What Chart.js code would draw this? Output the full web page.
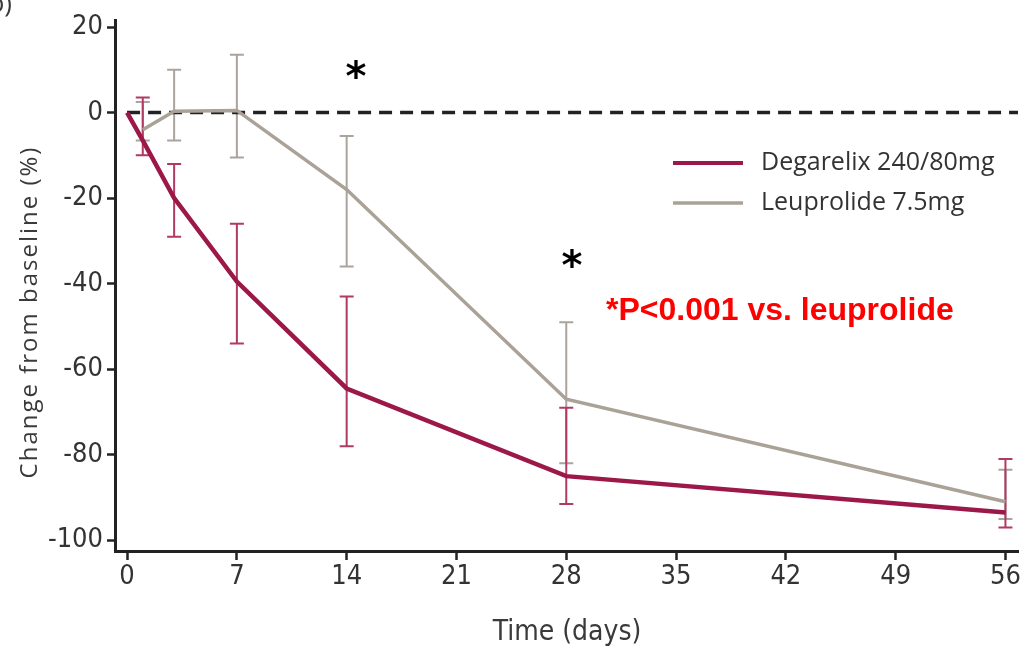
<!DOCTYPE html>
<html>
<head>
<meta charset="utf-8">
<script src="https://cdn.jsdelivr.net/npm/chart.js@4.4.1/dist/chart.umd.min.js"></script>
<style>
  html, body { margin: 0; padding: 0; background: #fff; }
  #wrap { width: 1027px; height: 655px; }
</style>
</head>
<body>
<div id="wrap"><canvas id="chart" width="1027" height="655"></canvas></div>
<script>
// values (change from baseline, %)
const degDays = [0, 1, 3, 7, 14, 28, 56];
const degarelix = [0, -6.5, -20, -39.5, -64.5, -85, -93.5];
const degLow = [null, -10, -29, -54, -78, -91.5, -97];
const degHigh = [null, 3.5, -12, -26, -43, -69, -81];

const leuDays = [1, 3, 7, 14, 28, 56];
const leuprolide = [-4, 0.3, 0.5, -18, -67, -91];
const leuLow = [-6.5, -6.5, -10.5, -36, -82, -95];
const leuHigh = [2.5, 10, 13.5, -5.5, -49, -83.5];

const xTicks = [0, 7, 14, 21, 28, 35, 42, 49, 56];
const yTicks = [-100, -80, -60, -40, -20, 0, 20];

const RED = "#9c1848";
const RED_ERR = "#b03a62";
const GRAY = "#aaa297";
const GRAY_ERR = "#aaa49d";
const AXIS = "#222";
const narrow = "'Liberation Sans Narrow', 'DejaVu Sans Condensed', 'Open Sans', sans-serif";

const toPts = (xs, ys) => xs.map((x, i) => ({ x, y: ys[i] }));

const errorBars = {
  id: "errorBars",
  beforeDatasetsDraw(chart) {
    const { ctx, scales: { x, y } } = chart;
    const draw = (days, lo, hi, color) => {
      ctx.save();
      ctx.strokeStyle = color;
      ctx.lineWidth = 2;
      days.forEach((d, i) => {
        if (lo[i] == null) return;
        const px = x.getPixelForValue(d);
        const y1 = y.getPixelForValue(lo[i]);
        const y2 = y.getPixelForValue(hi[i]);
        ctx.beginPath();
        ctx.moveTo(px, y1); ctx.lineTo(px, y2);
        ctx.moveTo(px - 7, y1); ctx.lineTo(px + 7, y1);
        ctx.moveTo(px - 7, y2); ctx.lineTo(px + 7, y2);
        ctx.stroke();
      });
      ctx.restore();
    };
    draw(leuDays, leuLow, leuHigh, GRAY_ERR);
    draw(degDays, degLow, degHigh, RED_ERR);
  },
};

const extras = {
  id: "extras",
  afterDraw(chart) {
    const { ctx } = chart;
    ctx.save();
    // axis titles
    ctx.fillStyle = "#3a3a3a";
    ctx.font = "24px 'Open Sans', sans-serif";
    ctx.textAlign = "center";
    ctx.textBaseline = "middle";
    ctx.translate(30, 312);
    ctx.rotate(-Math.PI / 2);
    ctx.letterSpacing = "2px";
    ctx.fillText("Change from baseline (%)", 0, 0);
    ctx.restore();

    ctx.save();
    ctx.fillStyle = "#3a3a3a";
    ctx.font = "28px " + narrow;
    ctx.textAlign = "center";
    ctx.textBaseline = "middle";
    ctx.fillText("Time (days)", 567, 633);

    // panel label cut off at the top
    ctx.font = "26px 'Open Sans', sans-serif";
    ctx.textAlign = "right";
    ctx.textBaseline = "alphabetic";
    ctx.fillText("b)", 12, 12);

    // legend
    const items = [["Degarelix 240/80mg", RED, 163, 4], ["Leuprolide 7.5mg", GRAY, 203, 3.5]];
    ctx.font = "25px 'Open Sans', sans-serif";
    ctx.textAlign = "left";
    ctx.textBaseline = "middle";
    items.forEach(([label, color, yy, w]) => {
      ctx.strokeStyle = color;
      ctx.lineWidth = w;
      ctx.beginPath();
      ctx.moveTo(673, yy); ctx.lineTo(743, yy);
      ctx.stroke();
      ctx.fillStyle = "#333";
      ctx.fillText(label, 761, yy);
    });

    // significance marks
    ctx.fillStyle = "#000";
    ctx.font = "bold 40px 'DejaVu Sans', sans-serif";
    ctx.textAlign = "center";
    ctx.fillText("*", 356, 80);
    ctx.fillText("*", 572, 269);
    ctx.fillStyle = "#ff0000";
    ctx.font = "bold 32px 'Liberation Sans', Arial, sans-serif";
    ctx.textAlign = "left";
    ctx.fillText("*P<0.001 vs. leuprolide", 606, 311);
    ctx.restore();
  },
};

new Chart(document.getElementById("chart"), {
  type: "line",
  data: {
    datasets: [
      {
        label: "Degarelix 240/80mg",
        data: toPts(degDays, degarelix),
        borderColor: RED,
        borderWidth: 4.5,
        pointRadius: 0,
        tension: 0,
        order: 0,
      },
      {
        label: "Leuprolide 7.5mg",
        data: toPts(leuDays, leuprolide),
        borderColor: GRAY,
        borderWidth: 3.5,
        pointRadius: 0,
        tension: 0,
        order: 1,
      },
      {
        label: "baseline",
        data: [{ x: 0, y: 0 }, { x: 56.8, y: 0 }],
        borderColor: "#222",
        borderWidth: 3.5,
        borderDash: [13, 8],
        pointRadius: 0,
        order: 2,
      },
    ],
  },
  options: {
    responsive: false,
    animation: false,
    layout: { padding: { top: 15, right: 9, left: 0, bottom: 0 } },
    scales: {
      x: {
        type: "linear",
        min: -0.77,
        max: 56.8,
        afterBuildTicks: (s) => { s.ticks = xTicks.map((v) => ({ value: v })); },
        afterFit: (s) => { s.height = 104; },
        grid: { drawOnChartArea: false, drawTicks: true, tickLength: 9, tickWidth: 2.5, tickColor: AXIS },
        border: { display: true, width: 3, color: AXIS },
        ticks: { font: { family: narrow, size: 27 }, color: "#333", padding: 1, maxRotation: 0, autoSkip: false },
      },
      y: {
        min: -102.5,
        max: 21.6,
        afterBuildTicks: (s) => { s.ticks = yTicks.map((v) => ({ value: v })); },
        afterFit: (s) => { s.width = 115; },
        grid: { drawOnChartArea: false, drawTicks: true, tickLength: 8, tickWidth: 2.5, tickColor: AXIS },
        border: { display: true, width: 3, color: AXIS },
        ticks: { font: { family: narrow, size: 27 }, color: "#333", padding: 4, autoSkip: false },
      },
    },
    plugins: {
      legend: { display: false },
      tooltip: { enabled: false },
    },
  },
  plugins: [errorBars, extras],
});
</script>
</body>
</html>
